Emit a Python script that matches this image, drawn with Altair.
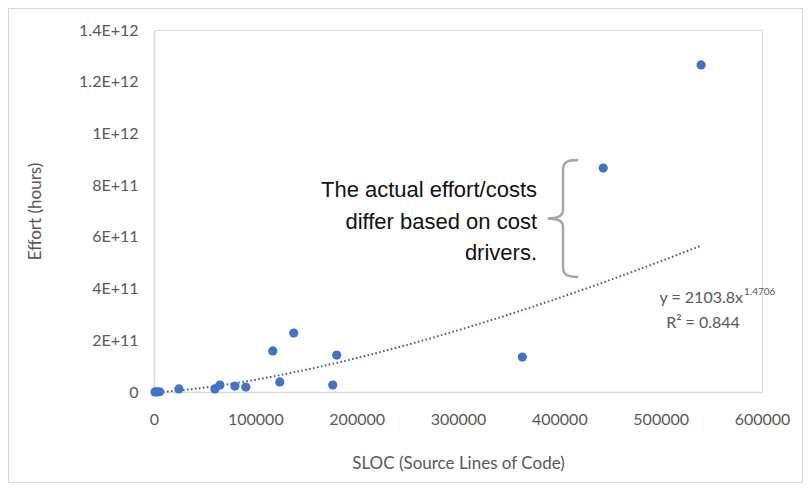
import altair as alt
import pandas as pd

# ---- data ----
sloc = [1000, 3000, 5500, 24600, 60100, 65000, 79800, 90600, 117200, 124100,
        137900, 176400, 180300, 363500, 443300, 539900]
effort = [1e8, 5e8, 1e9, 1.2e10, 1.2e10, 2.7e10, 2.3e10, 1.9e10, 1.59e11, 3.9e10,
          2.28e11, 2.7e10, 1.43e11, 1.35e11, 8.66e11, 1.265e12]

# power trendline shown on the chart: y = 2103.8 x^1.4706
trend_a = 2103.8
trend_b = 1.4706

x_ticks = [0, 100000, 200000, 300000, 400000, 500000, 600000]
y_ticks = [0, 2e11, 4e11, 6e11, 8e11, 1e12, 1.2e12, 1.4e12]

note_lines = ["The actual effort/costs", "differ  based on cost", "drivers."]

df = pd.DataFrame({"sloc": sloc, "effort": effort})

W, H = 608, 362
FONT = "Lato"
GREY = "#595959"

y_label_expr = (
    "datum.value == 0 ? '0' : "
    "replace(replace(format(datum.value, '.2~e'), 'e+', 'E+'), 'e', 'E')"
)

xs = alt.X("sloc:Q", scale=alt.Scale(domain=[0, 600000], nice=False),
           axis=alt.Axis(values=x_ticks, title="SLOC (Source Lines of Code)", grid=False,
                         ticks=False, domainColor="#d9d9d9", domainWidth=1.5,
                         labelColor=GREY, labelFont=FONT, labelFontSize=16, labelPadding=19,
                         labelFlush=False, labelOverlap=False,
                         titleColor=GREY, titleFont=FONT, titleFontSize=17,
                         titleFontWeight="normal", titlePadding=28, format="d"))
ys = alt.Y("effort:Q", scale=alt.Scale(domain=[0, 1.4e12], nice=False),
           axis=alt.Axis(values=y_ticks, title="Effort (hours)", grid=False,
                         ticks=False, domainColor="#d9d9d9", domainWidth=1.5,
                         labelColor=GREY, labelFont=FONT, labelFontSize=16, labelPadding=16,
                         labelFlush=False, labelOverlap=False,
                         labelExpr=y_label_expr,
                         titleColor=GREY, titleFont=FONT, titleFontSize=17,
                         titleFontWeight="normal", titlePadding=34))

points = alt.Chart(df).mark_circle(size=85, opacity=1, color="#4472C4").encode(x=xs, y=ys)

trend = (
    alt.Chart(alt.sequence(start=min(sloc), stop=max(sloc) + 1, step=2000, as_="sloc"))
    .transform_calculate(effort=f"{trend_a} * pow(datum.sloc, {trend_b})")
    .mark_line(color="#4a5f8c", strokeWidth=2, strokeDash=[1.6, 2.4])
    .encode(x="sloc:Q", y="effort:Q")
)

# chart border
border = alt.Chart(pd.DataFrame({"a": [0]})).mark_rect(
    fill=None, stroke="#d9d9d9", strokeWidth=1.2
).encode(x=alt.value(-145.5), x2=alt.value(648.5), y=alt.value(-21.5), y2=alt.value(452.5))

note_layers = []
for k, line in enumerate(note_lines):
    note_layers.append(
        alt.Chart(pd.DataFrame({"text": [line]})).mark_text(
            align="right", baseline="alphabetic", font="Liberation Sans", fontSize=22, color="#111111"
        ).encode(x=alt.value(383), y=alt.value(167 + 31.5 * k), text="text:N")
    )

brace_path = ("M 0.26 -1 C 0.06 -1 0 -0.96 0 -0.82 L 0 -0.14 C 0 -0.04 -0.1 0 -0.26 0 "
              "C -0.1 0 0 0.04 0 0.14 L 0 0.82 C 0 0.96 0.06 1 0.26 1")
brace = alt.Chart(pd.DataFrame({"a": [0]})).mark_point(
    shape=brace_path, filled=False, stroke="#a6a6a6", strokeWidth=2.5, size=13689, opacity=1
).encode(x=alt.value(563 - 154), y=alt.value(218.5 - 30))

eq1 = alt.Chart(pd.DataFrame({"t": ["y = 2103.8x"]})).mark_text(
    align="right", baseline="middle", font=FONT, fontSize=16, color=GREY
).encode(x=alt.value(589), y=alt.value(268), text="t:N")
eq_sup = alt.Chart(pd.DataFrame({"t": ["1.4706"]})).mark_text(
    align="left", baseline="middle", font=FONT, fontSize=10, color=GREY
).encode(x=alt.value(590), y=alt.value(262), text="t:N")
eq2 = alt.Chart(pd.DataFrame({"t": ["R² = 0.844"]})).mark_text(
    align="center", baseline="middle", font=FONT, fontSize=16, color=GREY
).encode(x=alt.value(549), y=alt.value(293), text="t:N")

chart = alt.layer(border, trend, points, brace, eq1, eq_sup, eq2, *note_layers).properties(
    width=W, height=H,
    autosize=alt.AutoSizeParams(type="none"),
    padding={"left": 146, "top": 22, "right": 41, "bottom": 91},
).configure_view(stroke=None).configure(background="white")

chart.save("out.html", embed_options={"renderer": "svg", "actions": False})
